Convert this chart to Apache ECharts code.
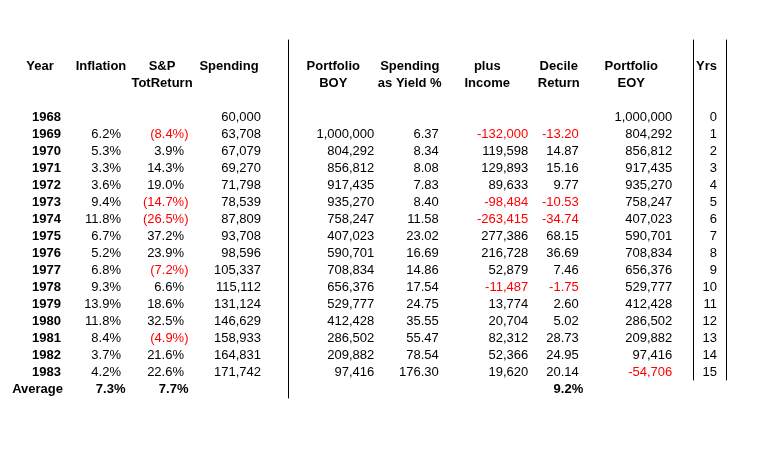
<!DOCTYPE html>
<html><head><meta charset="utf-8">
<script src="https://cdn.jsdelivr.net/npm/echarts@6/dist/echarts.min.js"></script>
<style>html,body{margin:0;padding:0;background:#fff}#c{width:764px;height:460px}</style>
</head><body><div id="c"></div>
<script>
// ---- data ----
const years = [1968,1969,1970,1971,1972,1973,1974,1975,1976,1977,1978,1979,1980,1981,1982,1983];
const inflation = [null,6.2,5.3,3.3,3.6,9.4,11.8,6.7,5.2,6.8,9.3,13.9,11.8,8.4,3.7,4.2];
const spReturn = [null,-8.4,3.9,14.3,19.0,-14.7,-26.5,37.2,23.9,-7.2,6.6,18.6,32.5,-4.9,21.6,22.6];
const spending = [60000,63708,67079,69270,71798,78539,87809,93708,98596,105337,115112,131124,146629,158933,164831,171742];
const portfolioBOY = [null,1000000,804292,856812,917435,935270,758247,407023,590701,708834,656376,529777,412428,286502,209882,97416];
const yieldPct = [null,6.37,8.34,8.08,7.83,8.40,11.58,23.02,16.69,14.86,17.54,24.75,35.55,55.47,78.54,176.30];
const plusIncome = [null,-132000,119598,129893,89633,-98484,-263415,277386,216728,52879,-11487,13774,20704,82312,52366,19620];
const decileReturn = [null,-13.20,14.87,15.16,9.77,-10.53,-34.74,68.15,36.69,7.46,-1.75,2.60,5.02,28.73,24.95,20.14];
const portfolioEOY = [1000000,804292,856812,917435,935270,758247,407023,590701,708834,656376,529777,412428,286502,209882,97416,-54706];
const yrs = [0,1,2,3,4,5,6,7,8,9,10,11,12,13,14,15];
const avgInflation = 7.3, avgSP = 7.7, avgDecile = 9.2;

// ---- formatting ----
const fInt = v => v.toLocaleString('en-US');
const fPct = v => v.toFixed(1) + '%';
const fAcct = v => v < 0 ? '(' + Math.abs(v).toFixed(1) + '%)' : v.toFixed(1) + '%';
const f2 = v => v.toFixed(2);

// ---- row categories ----
const rowCats = ['h1','h2','gap'].concat(years.map(String)).concat(['avg']);

// ---- column definitions (grid, header, values, formatter, alignment offsets) ----
const cols = [
  {grid:0, head:['Year'], vals:years, fmt:String, bold:true, avg:'Average', hdx:0, vdx:21},
  {grid:0, head:['Inflation'], vals:inflation, fmt:fPct, avg:fPct(avgInflation), hdx:-2, vdx:18},
  {grid:0, head:['S&P','TotReturn'], vals:spReturn, fmt:fAcct, acct:true, avg:fPct(avgSP), hdx:-4, vdx:18},
  {grid:0, head:['Spending'], vals:spending, fmt:fInt, hdx:0, vdx:32},
  {grid:1, head:['Portfolio','BOY'], vals:portfolioBOY, fmt:fInt, hdx:0, vdx:41},
  {grid:1, head:['Spending','as Yield %'], vals:yieldPct, fmt:f2, hdx:2, vdx:31},
  {grid:1, head:['plus','Income'], vals:plusIncome, fmt:fInt, hdx:5, vdx:46},
  {grid:1, head:['Decile','Return'], vals:decileReturn, fmt:f2, avg:fPct(avgDecile), hdx:2, vdx:22},
  {grid:1, head:['Portfolio','EOY'], vals:portfolioEOY, fmt:fInt, hdx:0, vdx:41},
  {grid:2, head:['Yrs'], vals:yrs, fmt:String, hdx:-3, vdx:7.5}
];

const FONT = "'Liberation Sans', Arial, sans-serif";
const gridCols = [[],[],[]];
cols.forEach(c => { c.xi = gridCols[c.grid].length; gridCols[c.grid].push(c.head.join(' ')); });

const cellsByGrid = [[],[],[]];
cols.forEach(c => {
  const list = cellsByGrid[c.grid];
  c.head.forEach((h, i) => list.push({x:c.xi, y:i, text:h, bold:true, align:'center', dx:c.hdx, color:'#000'}));
  c.vals.forEach((v, i) => {
    if (v === null || v === undefined) return;
    const t = c.fmt(v);
    const paren = c.acct && v < 0;
    list.push({x:c.xi, y:3+i, text:t, bold:!!c.bold, align:'right', dx:c.vdx + (paren ? 4.5 : 0),
      color: (typeof v === 'number' && v < 0) ? '#ff0000' : '#000'});
  });
  if (c.avg) list.push({x:c.xi, y:rowCats.length-1, text:c.avg, bold:true, align:'right',
    dx:c.vdx + (c.xi === 0 && c.grid === 0 ? 2 : 4.5), color:'#000'});
});

const textGrids = [
  {left:8.5, width:252, top:57.5, height:340},
  {left:296, width:372.5, top:57.5, height:340},
  {left:693, width:33, top:57.5, height:340}
];
const grids = textGrids.slice();
grids.push({left:288, width:20, top:40, height:358});   // separator line
grids.push({left:693, width:33, top:40, height:340});   // Yrs frame

const xAxes = [], yAxes = [], series = [];
textGrids.forEach((g, gi) => {
  xAxes.push({type:'category', gridIndex:gi, data:gridCols[gi], show:false});
  yAxes.push({type:'category', gridIndex:gi, data:rowCats, inverse:true, show:false});
  const cells = cellsByGrid[gi];
  series.push({
    type:'custom', xAxisIndex:gi, yAxisIndex:gi, silent:true,
    data: cells.map(c => [c.x, c.y]),
    renderItem: (params, api) => {
      const c = cells[params.dataIndex];
      const p = api.coord([api.value(0), api.value(1)]);
      return {type:'text', x:p[0] + c.dx, y:p[1] + 0.5,
        style:{text:c.text, fill:c.color, fontFamily:FONT, fontSize:13,
          fontWeight:c.bold ? 'bold' : 'normal', align:c.align, verticalAlign:'middle'}};
    }
  });
});
const lineStyle = {show:true, onZero:false, lineStyle:{color:'#000', width:1}};
// separator grid
xAxes.push({type:'value', gridIndex:3, show:false});
yAxes.push({type:'value', gridIndex:3, position:'left', axisLine:lineStyle, axisTick:{show:false}, axisLabel:{show:false}, splitLine:{show:false}});
// Yrs frame
xAxes.push({type:'value', gridIndex:4, show:false});
yAxes.push({type:'value', gridIndex:4, position:'left', axisLine:lineStyle, axisTick:{show:false}, axisLabel:{show:false}, splitLine:{show:false}});
yAxes.push({type:'value', gridIndex:4, position:'right', axisLine:lineStyle, axisTick:{show:false}, axisLabel:{show:false}, splitLine:{show:false}});

const chart = echarts.init(document.getElementById('c'), null, {renderer:'canvas'});
chart.setOption({
  animation:false,
  backgroundColor:'#fff',
  grid:grids, xAxis:xAxes, yAxis:yAxes, series:series
});
</script>
</body></html>
